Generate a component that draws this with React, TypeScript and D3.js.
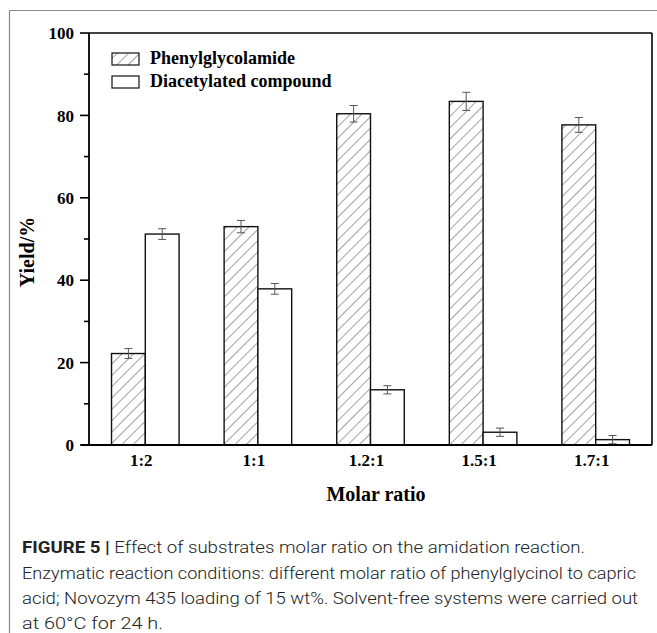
import React from "react";
import * as d3 from "d3";

const categories = ["1:2", "1:1", "1.2:1", "1.5:1", "1.7:1"];
const seriesNames = ["Phenylglycolamide", "Diacetylated compound"];
const phenylValues = [22.2, 53.0, 80.4, 83.4, 77.7];
const phenylErrors = [1.2, 1.5, 2.0, 2.2, 1.8];
const diacetylValues = [51.2, 37.9, 13.4, 3.1, 1.3];
const diacetylErrors = [1.3, 1.3, 1.0, 1.0, 1.0];
const yTicks = [0, 20, 40, 60, 80, 100];
const yMinorTicks = [10, 30, 50, 70, 90];
const captionLines = [
  "Effect of substrates molar ratio on the amidation reaction.",
  "Enzymatic reaction conditions: different molar ratio of phenylglycinol to capric",
  "acid; Novozym 435 loading of 15 wt%. Solvent-free systems were carried out",
  "at 60\u00B0C for 24 h.",
];

const W = 657;
const H = 633;
const left = 89;
const right = 652;
const top = 33;
const bottom = 445;

export default function App() {
  const x = d3.scaleBand<string>().domain(categories).range([left, right]).paddingInner(0).paddingOuter(0);
  const y = d3.scaleLinear().domain([0, 100]).range([bottom, top]);
  const bw = x.bandwidth() * 0.3;
  const serif = "'Liberation Serif', 'Times New Roman', serif";
  const sans = "Roboto, 'Liberation Sans', Arial, sans-serif";
  const series = [
    { values: phenylValues, errors: phenylErrors, fill: "url(#hatch)", off: -1 },
    { values: diacetylValues, errors: diacetylErrors, fill: "#fff", off: 0 },
  ];
  return (
    <svg width={W} height={H} style={{ position: "absolute", left: 0, top: 0, background: "#fff" }}>
      <defs>
        <pattern id="hatch" patternUnits="userSpaceOnUse" width="8" height="8" patternTransform="rotate(45)">
          <rect width="8" height="8" fill="#fff" />
          <line x1="0" y1="0" x2="0" y2="8" stroke="#555" strokeWidth="1.1" />
        </pattern>
      </defs>
      {/* outer frame */}
      <line x1={9.5} y1={10.5} x2={W} y2={10.5} stroke="#888" strokeWidth={1.2} />
      <line x1={9.5} y1={10.5} x2={9.5} y2={H} stroke="#888" strokeWidth={1.2} />

      {/* bars */}
      {series.map((s, si) =>
        categories.map((c, i) => {
          const cx = (x(c) as number) + x.bandwidth() / 2;
          const bx = cx + s.off * bw;
          const v = s.values[i];
          const e = s.errors[i];
          const ex = bx + bw / 2;
          return (
            <g key={`${si}-${i}`}>
              <rect x={bx} y={y(v)} width={bw} height={y(0) - y(v)} fill={s.fill} stroke="#111" strokeWidth={1.4} />
              <line x1={ex} x2={ex} y1={y(v + e)} y2={y(Math.max(0, v - e))} stroke="#555" strokeWidth={1} />
              <line x1={ex - 4} x2={ex + 4} y1={y(v + e)} y2={y(v + e)} stroke="#555" strokeWidth={1} />
              <line x1={ex - 4} x2={ex + 4} y1={y(Math.max(0, v - e))} y2={y(Math.max(0, v - e))} stroke="#555" strokeWidth={1} />
            </g>
          );
        })
      )}

      {/* plot box */}
      <line x1={left} y1={top} x2={right} y2={top} stroke="#000" strokeWidth={1.6} />
      <line x1={right} y1={top} x2={right} y2={bottom} stroke="#000" strokeWidth={1.6} />
      <line x1={left} y1={top} x2={left} y2={bottom} stroke="#000" strokeWidth={1.8} />
      <line x1={81} y1={bottom} x2={right} y2={bottom} stroke="#000" strokeWidth={1.8} />

      {/* y ticks */}
      {yTicks.map((t) => (
        <g key={t}>
          <line x1={80} x2={left} y1={y(t)} y2={y(t)} stroke="#000" strokeWidth={1.6} />
          <text x={74} y={y(t)} dy="0.36em" textAnchor="end" fontFamily={serif} fontWeight="bold" fontSize={17}>
            {t}
          </text>
        </g>
      ))}
      {yMinorTicks.map((t) => (
        <line key={t} x1={84} x2={left} y1={y(t)} y2={y(t)} stroke="#000" strokeWidth={1.6} />
      ))}

      {/* x labels */}
      {categories.map((c) => (
        <text key={c} x={(x(c) as number) + x.bandwidth() / 2 - 4} y={466} textAnchor="middle" fontFamily={serif} fontWeight="bold" fontSize={17}>
          {c}
        </text>
      ))}

      {/* axis titles */}
      <text x={376} y={501} textAnchor="middle" fontFamily={serif} fontWeight="bold" fontSize={20}>
        Molar ratio
      </text>
      <text transform="translate(34,252) rotate(-90)" textAnchor="middle" fontFamily={serif} fontWeight="bold" fontSize={20}>
        Yield/%
      </text>

      {/* legend */}
      <rect x={112} y={53} width={27} height={12} fill="url(#hatch)" stroke="#111" strokeWidth={1.2} />
      <rect x={112} y={76} width={27} height={12} fill="#fff" stroke="#111" strokeWidth={1.2} />
      <text x={150} y={64} fontFamily={serif} fontWeight="bold" fontSize={18}>
        {seriesNames[0]}
      </text>
      <text x={150} y={87} fontFamily={serif} fontWeight="bold" fontSize={18}>
        {seriesNames[1]}
      </text>

      {/* caption */}
      <text x={22} y={553} fontFamily={sans} fontSize={17} fontWeight={300} fill="#222" textLength={563} lengthAdjust="spacingAndGlyphs">
        <tspan fontWeight="bold">FIGURE 5 |</tspan> {captionLines[0]}
      </text>
      <text x={22} y={579} fontFamily={sans} fontSize={17} fontWeight={300} fill="#222" textLength={614} lengthAdjust="spacingAndGlyphs">
        {captionLines[1]}
      </text>
      <text x={22} y={604} fontFamily={sans} fontSize={17} fontWeight={300} fill="#222" textLength={616} lengthAdjust="spacingAndGlyphs">
        {captionLines[2]}
      </text>
      <text x={22} y={629} fontFamily={sans} fontSize={17} fontWeight={300} fill="#222" textLength={141} lengthAdjust="spacingAndGlyphs">
        {captionLines[3]}
      </text>
    </svg>
  );
}
